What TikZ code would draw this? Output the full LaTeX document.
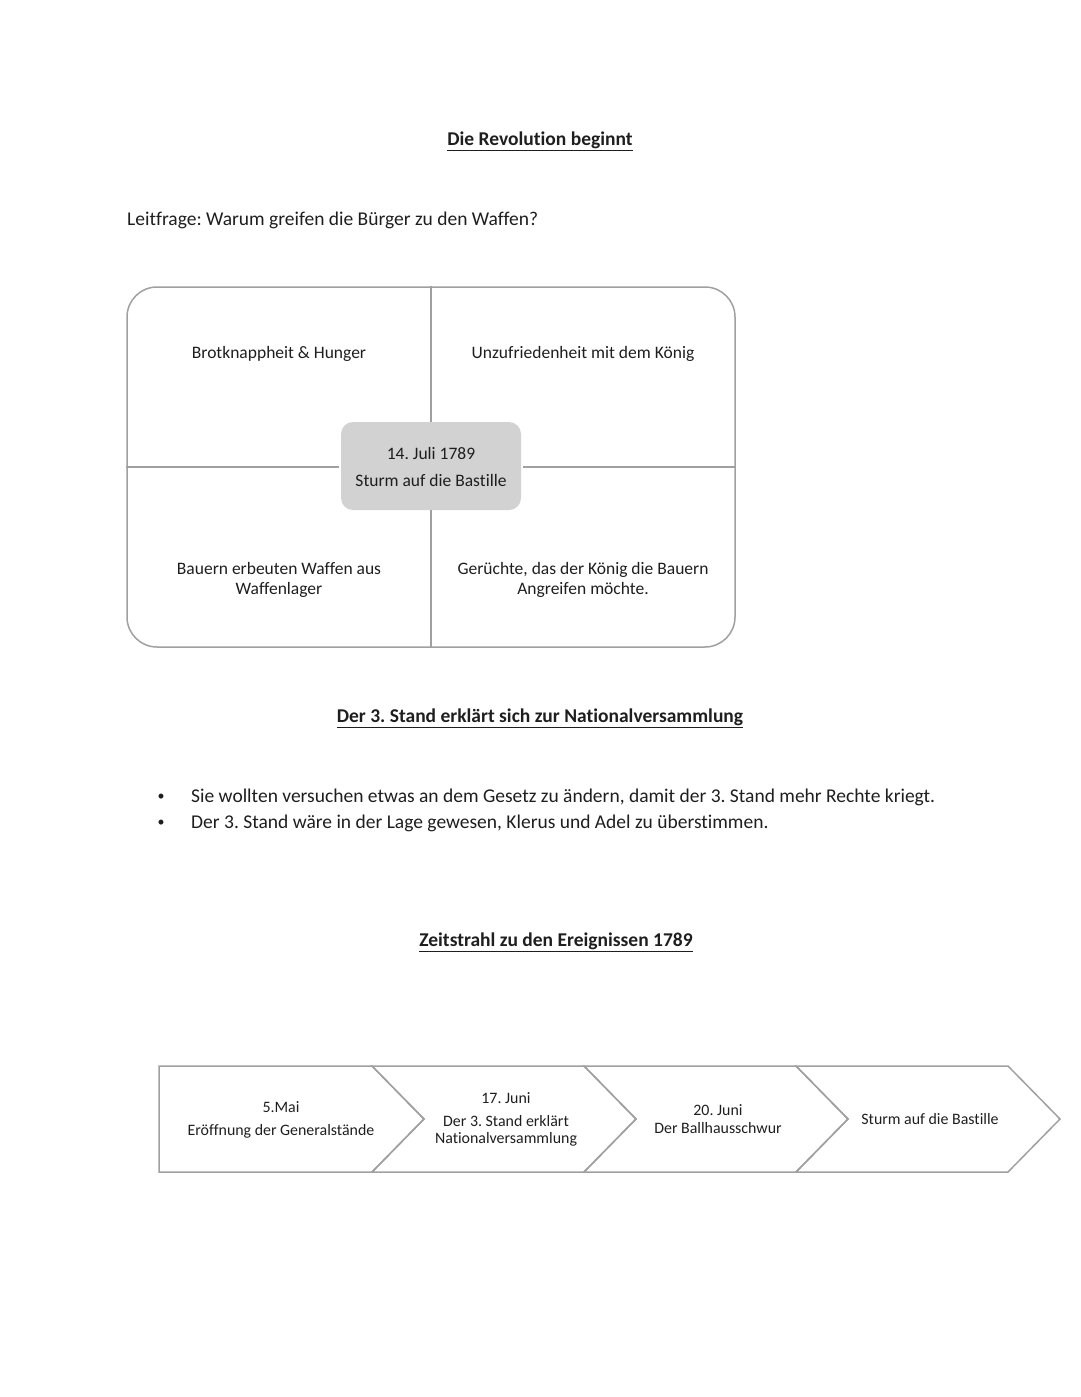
\documentclass[tikz,border=0pt]{standalone}
\usepackage{fontspec}
\setmainfont{Carlito}[Ligatures=NoCommon]
\frenchspacing
\definecolor{txt}{HTML}{1E1E1E}
\definecolor{frameline}{HTML}{A0A0A0}
\definecolor{boxfill}{HTML}{D2D2D2}
\definecolor{chev}{HTML}{A0A0A0}
\begin{document}
\begin{tikzpicture}[x=1pt,y=-1pt,
  every node/.style={text=txt,inner sep=0pt},
  bodytext/.style={font=\fontsize{19.5}{23}\selectfont},
  bullettext/.style={font=\fontsize{14}{16}\selectfont},
  titletext/.style={font=\fontsize{19.5}{23}\selectfont\bfseries},
  quadtext/.style={font=\fontsize{17.5}{19.5}\selectfont,align=center},
  timetext/.style={font=\fontsize{15.9}{17.5}\selectfont,align=center},
  frameline/.style={draw=frameline,line width=1.5pt},
  chevron/.style={draw=chev,line width=1.5pt,line join=miter}]
\useasboundingbox (0,0) rectangle (1080,1397);

% titles
\node[titletext] (t1) at (540,141) {\underline{Die Revolution beginnt}};
\node[bodytext,anchor=west] (lf) at (127,220) {Leitfrage: Warum greifen die Bürger zu den Waffen?};

% quadrant frame
\node[frameline,rounded corners=30pt,minimum width=608pt,minimum height=360pt] (frame) at (431,467) {};
\node[fill=boxfill,rounded corners=12pt,minimum width=180pt,minimum height=88pt] (center) at (431,466) {};
\node[quadtext,font=\fontsize{17.5}{27}\selectfont] (ctext) at (431,467) {14. Juli 1789\\Sturm auf die Bastille};
\draw[frameline] (frame.north) -- (center.north);
\draw[frameline] (center.south) -- (frame.south);
\draw[frameline] (frame.west) -- ([xshift=-2pt]center.west |- frame.west);
\draw[frameline] ([xshift=2pt]center.east |- frame.east) -- (frame.east);

\node[quadtext] (q1) at (279,354) {Brotknappheit \& Hunger};
\node[quadtext] (q2) at (583,354) {Unzufriedenheit mit dem König};
\node[quadtext] (q3) at (279,580) {Bauern erbeuten Waffen aus\\Waffenlager};
\node[quadtext] (q4) at (583,580) {Gerüchte, das der König die Bauern\\Angreifen möchte.};

% section 2
\node[titletext] (t2) at (540,718) {\underline{Der 3. Stand erklärt sich zur Nationalversammlung}};
\node[bullettext] (b1) at (161,797) {\textbullet};
\node[bodytext,anchor=west] (l1) at (191,797) {Sie wollten versuchen etwas an dem Gesetz zu ändern, damit der 3. Stand mehr Rechte kriegt.};
\node[bullettext] (b2) at (161,823) {\textbullet};
\node[bodytext,anchor=west] (l2) at (191,823) {Der 3. Stand wäre in der Lage gewesen, Klerus und Adel zu überstimmen.};

% section 3
\node[titletext] (t3) at (556,942) {\underline{Zeitstrahl zu den Ereignissen 1789}};

\draw[chevron] (159,1066) -- (372,1066) -- (424,1119) -- (372,1172) -- (159,1172) -- cycle;
\draw[chevron] (372,1066) -- (584,1066) -- (636,1119) -- (584,1172) -- (372,1172) -- (424,1119) -- cycle;
\draw[chevron] (584,1066) -- (796,1066) -- (848,1119) -- (796,1172) -- (584,1172) -- (636,1119) -- cycle;
\draw[chevron] (796,1066) -- (1008,1066) -- (1060,1119) -- (1008,1172) -- (796,1172) -- (848,1119) -- cycle;

\node[timetext] (e1a) at (281,1107) {5.Mai};
\node[timetext] (e1b) at (281,1131) {Eröffnung der Generalstände};
\node[timetext] (e2a) at (506,1098) {17. Juni};
\node[timetext] (e2b) at (506,1131) {Der 3. Stand erklärt\\Nationalversammlung};
\node[timetext] (e3) at (718,1119) {20. Juni\\Der Ballhausschwur};
\node[timetext] (e4) at (930,1119) {Sturm auf die Bastille};
\end{tikzpicture}
\end{document}
